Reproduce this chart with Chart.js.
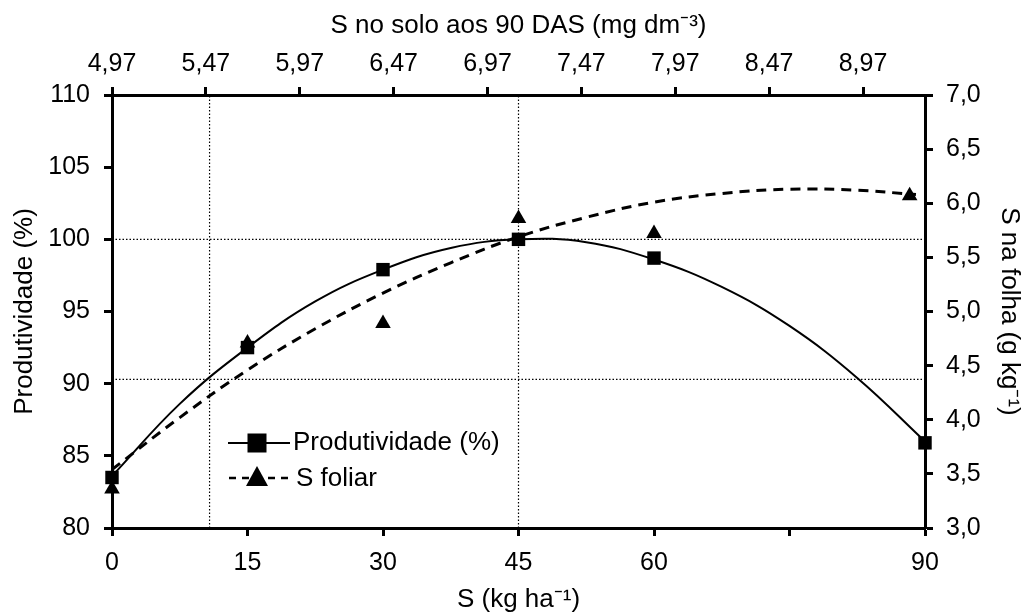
<!DOCTYPE html>
<html lang="pt">
<head>
  <meta charset="UTF-8">
  <title>Produtividade e S foliar</title>
  <script src="https://cdn.jsdelivr.net/npm/chart.js"></script>
  <style>
    body { margin: 0; background: #fff; }
    #wrap { width: 1026px; height: 613px; }
  </style>
</head>
<body>
  <div id="wrap"><canvas id="grafico"></canvas></div>
  <script>
    // doses de S (kg/ha) e observações
    const doses = [0, 15, 30, 45, 60, 90];
    const produtividade = [83.5, 92.5, 97.9, 100.0, 98.7, 85.9];
    const dosesFoliar = [0, 15, 30, 45, 60, 88.3];
    const sFoliar = [3.36, 4.71, 4.89, 5.86, 5.72, 6.07];

    // curvas ajustadas
    const curvaProdX = [0, 7.5, 15, 22.5, 30, 37.5, 45, 52.5, 60, 67.5, 75, 82.5, 90];
    const curvaProd = [83.6, 88.6, 92.5, 95.7, 97.9, 99.4, 100.0, 99.8, 98.6, 96.7, 94.0, 90.4, 86.0];
    const curvaFolX = [0, 7.5, 15, 22.5, 30, 37.5, 45, 52.5, 60, 67.5, 75, 82.5, 89];
    const curvaFol = [3.54, 4.02, 4.46, 4.84, 5.17, 5.45, 5.69, 5.87, 6.01, 6.09, 6.13, 6.12, 6.08];

    // linhas de referência pontilhadas
    const refProd = [100, 90.3];
    const refDose = [10.8, 45];

    // eixos
    const xTicks = [0, 15, 30, 45, 60, 75, 90];
    const xTickLabels = ['0', '15', '30', '45', '60', '', '90'];
    const topTicks = [4.97, 5.47, 5.97, 6.47, 6.97, 7.47, 7.97, 8.47, 8.97];

    const FONT = "'Liberation Sans', Arial, sans-serif";
    const pts = (xs, ys) => xs.map((x, i) => ({ x: x, y: ys[i] }));
    const virgula = (v, d) => v.toFixed(d).replace('.', ',');

    const refSets = [];
    refProd.forEach(v => refSets.push({
      data: [{ x: 0, y: v }, { x: 90, y: v }], yAxisID: 'y'
    }));
    refDose.forEach(v => refSets.push({
      data: [{ x: v, y: 80 }, { x: v, y: 110 }], yAxisID: 'y'
    }));
    refSets.forEach(d => Object.assign(d, {
      showLine: true, borderColor: '#000', borderWidth: 1.2, borderDash: [1.5, 2],
      pointRadius: 0, fill: false
    }));

    // legenda desenhada dentro da área do gráfico
    const legendaPlugin = {
      id: 'legenda',
      afterDatasetsDraw(chart) {
        const ctx = chart.ctx;
        ctx.save();
        ctx.strokeStyle = '#000';
        ctx.fillStyle = '#000';
        // linha 1
        ctx.lineWidth = 2;
        ctx.beginPath(); ctx.moveTo(228, 443); ctx.lineTo(290, 443); ctx.stroke();
        ctx.fillRect(257 - 9.5, 443 - 9.5, 19, 19);
        // linha 2
        ctx.lineWidth = 2.5;
        ctx.setLineDash([7, 6]);
        ctx.beginPath(); ctx.moveTo(229, 478); ctx.lineTo(293, 478); ctx.stroke();
        ctx.setLineDash([]);
        ctx.beginPath();
        ctx.moveTo(257, 466); ctx.lineTo(268, 486); ctx.lineTo(246, 486); ctx.closePath(); ctx.fill();
        ctx.font = '26px ' + FONT;
        ctx.textBaseline = 'middle';
        ctx.fillText('Produtividade (%)', 293, 443);
        ctx.fillText('S foliar', 296, 479);
        ctx.restore();
      }
    };

    const eixo = {
      border: { display: true, color: '#000', width: 3 },
      grid: { display: true, drawOnChartArea: false, drawTicks: true, tickLength: 8, tickWidth: 3, tickColor: '#000' },
      ticks: { color: '#000', font: { family: FONT, size: 25 } },
      title: { display: true, color: '#000', font: { family: FONT, size: 26, lineHeight: 1 } }
    };
    const clone = o => JSON.parse(JSON.stringify(o));

    const xOpts = clone(eixo);
    Object.assign(xOpts, { type: 'linear', position: 'bottom', min: 0, max: 90 });
    xOpts.ticks.padding = 12;
    xOpts.ticks.callback = (v, i) => xTickLabels[i];
    xOpts.afterBuildTicks = s => { s.ticks = xTicks.map(v => ({ value: v })); };
    xOpts.afterFit = s => { s.height = 85; };
    xOpts.title.text = 'S (kg ha⁻¹)';
    xOpts.title.padding = { top: 0, bottom: 0 };

    const x2Opts = clone(eixo);
    Object.assign(x2Opts, { type: 'linear', position: 'top', min: 4.97, max: 9.30 });
    x2Opts.ticks.padding = 8;
    x2Opts.ticks.callback = v => virgula(v, 2);
    x2Opts.afterBuildTicks = s => { s.ticks = topTicks.map(v => ({ value: v })); };
    x2Opts.afterFit = s => { s.height = 95; };
    x2Opts.title.text = 'S no solo aos 90 DAS (mg dm⁻³)';
    x2Opts.title.padding = { top: 13, bottom: 0 };

    const yOpts = clone(eixo);
    Object.assign(yOpts, { type: 'linear', position: 'left', min: 80, max: 110 });
    yOpts.ticks.stepSize = 5;
    yOpts.ticks.padding = 14;
    yOpts.afterFit = s => { s.width = 112; };
    yOpts.title.text = 'Produtividade (%)';
    yOpts.title.padding = { top: 12, bottom: 0 };

    const y2Opts = clone(eixo);
    Object.assign(y2Opts, { type: 'linear', position: 'right', min: 3, max: 7 });
    y2Opts.ticks.stepSize = 0.5;
    y2Opts.ticks.padding = 13;
    y2Opts.ticks.callback = v => virgula(v, 1);
    y2Opts.afterFit = s => { s.width = 101; };
    y2Opts.title.text = 'S na folha (g kg⁻¹)';
    y2Opts.title.padding = { top: 4, bottom: 0 };

    new Chart(document.getElementById('grafico'), {
      type: 'scatter',
      data: {
        datasets: [
          { label: 'Produtividade (%)', data: pts(doses, produtividade), yAxisID: 'y',
            pointStyle: 'rect', pointRadius: 9.5, backgroundColor: '#000', borderColor: '#000', borderWidth: 0 },
          { label: 'S foliar', data: pts(dosesFoliar, sFoliar), yAxisID: 'y2',
            pointStyle: 'triangle', pointRadius: 9, backgroundColor: '#000', borderColor: '#000', borderWidth: 0 },
          { data: pts(curvaProdX, curvaProd), yAxisID: 'y', showLine: true, tension: 0.4,
            borderColor: '#000', borderWidth: 2, pointRadius: 0 },
          { data: pts(curvaFolX, curvaFol), yAxisID: 'y2', showLine: true, tension: 0.4,
            borderColor: '#000', borderWidth: 3, borderDash: [10, 7], pointRadius: 0 },
          ...refSets
        ].map(d => Object.assign({ clip: false }, d))
      },
      options: {
        responsive: true,
        maintainAspectRatio: false,
        animation: false,
        layout: { padding: 0 },
        plugins: { legend: { display: false }, tooltip: { enabled: false } },
        scales: { x: xOpts, x2: x2Opts, y: yOpts, y2: y2Opts }
      },
      plugins: [legendaPlugin]
    });
  </script>
</body>
</html>
